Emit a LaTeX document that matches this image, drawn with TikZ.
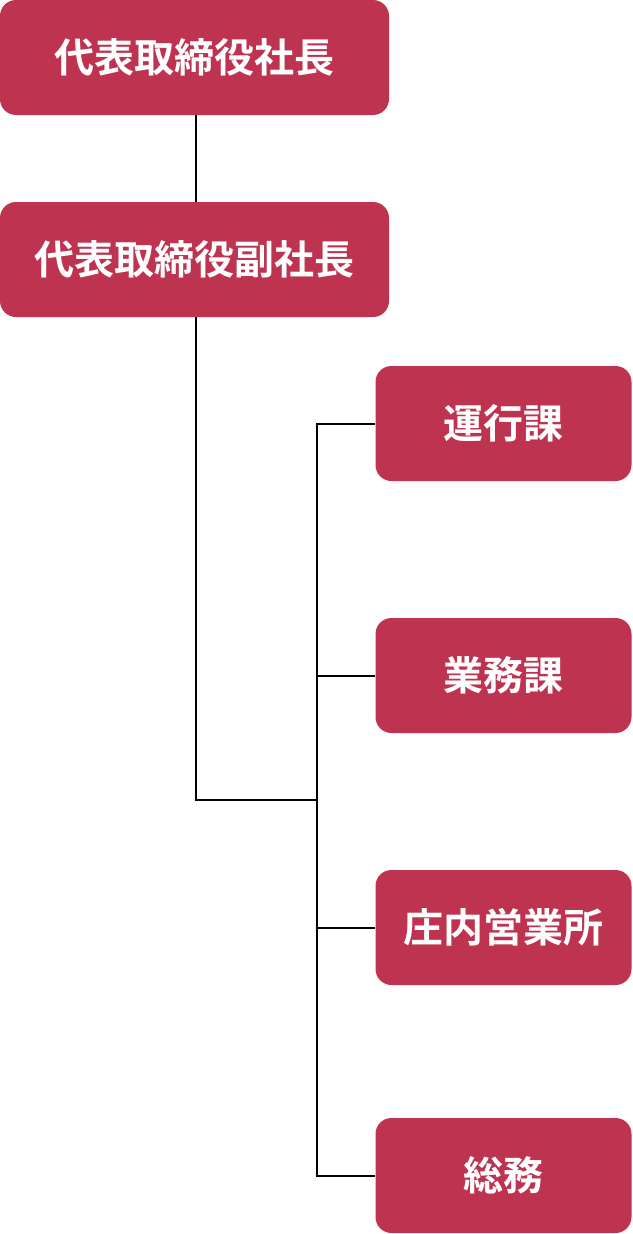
\documentclass[tikz,border=0pt]{standalone}
\usepackage{fontspec}
\newfontfamily\jp{Noto Sans CJK JP}[BoldFont=* Bold]
\definecolor{boxred}{HTML}{BE334F}
\begin{document}
\begin{tikzpicture}[x=1pt,y=-1pt,
  box/.style={draw=none,fill=boxred,rounded corners=16pt,text=white,
    font=\jp\bfseries\fontsize{40}{42}\selectfont,inner sep=0pt,
    minimum height=115pt},
  wide/.style={box,minimum width=389pt},
  narrow/.style={box,minimum width=256pt},
  conn/.style={draw=black,line width=2pt}]
\useasboundingbox (0,0) rectangle (632,1234);
\node[wide] (b1) at (194.5,57.5) {代表取締役社長};
\node[wide] (b2) at (194.5,259.5) {代表取締役副社長};
\node[narrow] (r1) at (503.5,423.5) {運行課};
\node[narrow] (r2) at (503.5,675.5) {業務課};
\node[narrow] (r3) at (503.5,927.5) {庄内営業所};
\node[narrow] (r4) at (503.5,1175.5) {総務};
\coordinate (j) at (196,800);
\coordinate (bus) at (317,800);
\draw[conn] (j |- b1.south) -- (j |- b2.north);
\draw[conn] (j |- b2.south) -- (j) -- (bus);
\draw[conn] (r1.west) -- (bus |- r1.west) -- (bus |- r4.west) -- (r4.west);
\draw[conn] (r2.west) -- (bus |- r2.west);
\draw[conn] (r3.west) -- (bus |- r3.west);
\end{tikzpicture}
\end{document}
